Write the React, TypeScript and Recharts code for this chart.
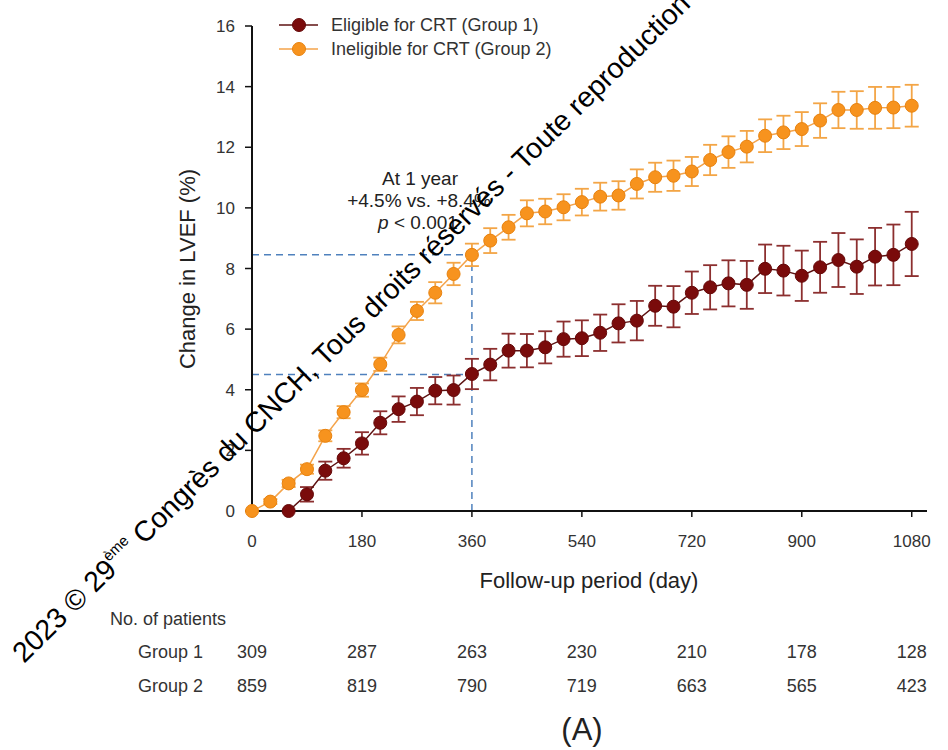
import React from 'react';
import { LineChart, Line, XAxis, YAxis, ErrorBar, ReferenceLine } from 'recharts';

// follow-up days, one point every 30 days
const days = [
  0, 30, 60, 90, 120, 150, 180, 210, 240, 270, 300, 330, 360, 390, 420, 450, 480, 510, 540,
  570, 600, 630, 660, 690, 720, 750, 780, 810, 840, 870, 900, 930, 960, 990, 1020, 1050, 1080,
];

// Group 1: eligible for CRT (no value before day 60)
const group1 = [
  null, null, 0, 0.55, 1.33, 1.74, 2.23, 2.91, 3.36, 3.61, 3.97, 3.99, 4.52, 4.83, 5.29, 5.29, 5.4, 5.67, 5.7,
  5.88, 6.19, 6.28, 6.77, 6.74, 7.2, 7.38, 7.51, 7.46, 7.99, 7.93, 7.76, 8.04, 8.28, 8.06, 8.39, 8.45, 8.81,
];
const group1Err = [
  null, null, 0, 0.24, 0.3, 0.31, 0.37, 0.38, 0.42, 0.45, 0.45, 0.48, 0.5, 0.52, 0.56, 0.55, 0.53, 0.58, 0.59,
  0.6, 0.63, 0.65, 0.66, 0.68, 0.7, 0.73, 0.76, 0.79, 0.8, 0.82, 0.83, 0.84, 0.89, 0.9, 0.95, 1.0, 1.06,
];

// Group 2: ineligible for CRT
const group2 = [
  0, 0.31, 0.91, 1.38, 2.48, 3.26, 3.99, 4.84, 5.81, 6.6, 7.2, 7.82, 8.45, 8.92, 9.36, 9.82, 9.88, 10.02, 10.19,
  10.37, 10.41, 10.79, 11.01, 11.06, 11.2, 11.58, 11.84, 12.02, 12.38, 12.49, 12.6, 12.88, 13.23, 13.23, 13.3, 13.31, 13.37,
];
const group2Err = [
  0, 0.08, 0.12, 0.15, 0.18, 0.2, 0.22, 0.22, 0.28, 0.3, 0.35, 0.37, 0.37, 0.41, 0.41, 0.43, 0.42, 0.43, 0.44,
  0.46, 0.47, 0.48, 0.48, 0.5, 0.48, 0.5, 0.52, 0.52, 0.54, 0.55, 0.56, 0.57, 0.6, 0.62, 0.69, 0.68, 0.69,
];

const xTicks = [0, 180, 360, 540, 720, 900, 1080];
const yTicks = [0, 2, 4, 6, 8, 10, 12, 14, 16];

// number at risk under each x tick
const group1Counts = [309, 287, 263, 230, 210, 178, 128];
const group2Counts = [859, 819, 790, 719, 663, 565, 423];

// 1-year values marked by the dashed guides
const oneYearDay = 360;
const oneYearG1 = 4.5;
const oneYearG2 = 8.45;

const DARK = '#7a0b0b';
const ORANGE = '#f7931e';
const FONT = '"Liberation Sans", Arial, sans-serif';

const data = days.map((d, i) => ({
  day: d,
  g1: group1[i],
  g1Err: group1Err[i],
  g2: group2[i],
  g2Err: group2Err[i],
}));

// x tick label plus the two "No. of patients" rows underneath it
const TableTick = (props: any) => {
  const { x, y, payload, index } = props;
  return (
    <g fontFamily={FONT} textAnchor="middle">
      <text x={x} y={y + 28} fontSize={17} fill="#333">{payload.value}</text>
      <text x={x} y={y + 139} fontSize={18} fill="#333">{group1Counts[index]}</text>
      <text x={x} y={y + 173} fontSize={18} fill="#333">{group2Counts[index]}</text>
    </g>
  );
};

export default function App() {
  return (
    <div style={{ position: 'absolute', left: 0, top: 0, width: 948, height: 750, background: '#fff', fontFamily: FONT }}>
      <LineChart width={948} height={750} data={data} margin={{ top: 26, right: 21, bottom: 209, left: 192 }}>
        <XAxis
          dataKey="day"
          type="number"
          domain={[0, 1105]}
          ticks={xTicks}
          height={30}
          axisLine={{ stroke: '#111', strokeWidth: 2 }}
          tickLine={{ stroke: '#111', strokeWidth: 1.5 }}
          tickSize={6}
          tick={<TableTick />}
          interval={0}
        />
        <YAxis
          type="number"
          domain={[0, 16]}
          ticks={yTicks}
          width={60}
          axisLine={{ stroke: '#111', strokeWidth: 2 }}
          tickLine={{ stroke: '#111', strokeWidth: 1.5 }}
          tickSize={7}
          tickMargin={10}
          tick={{ fill: '#333', fontSize: 17, fontFamily: FONT }}
          interval={0}
        />
        <ReferenceLine
          segment={[{ x: 0, y: oneYearG2 }, { x: oneYearDay, y: oneYearG2 }]}
          stroke="#4f81bd"
          strokeDasharray="7 5"
          strokeWidth={1.5}
        />
        <ReferenceLine
          segment={[{ x: 0, y: oneYearG1 }, { x: oneYearDay, y: oneYearG1 }]}
          stroke="#4f81bd"
          strokeDasharray="7 5"
          strokeWidth={1.5}
        />
        <ReferenceLine
          segment={[{ x: oneYearDay, y: 0 }, { x: oneYearDay, y: oneYearG2 }]}
          stroke="#4f81bd"
          strokeDasharray="7 5"
          strokeWidth={1.5}
        />
        <Line
          dataKey="g1"
          stroke="#5e1212"
          strokeWidth={1.5}
          dot={{ r: 6.5, fill: DARK, stroke: '#650909', strokeWidth: 1 }}
          isAnimationActive={false}
        >
          <ErrorBar dataKey="g1Err" width={7} stroke="#8c2f2f" strokeWidth={1.8} />
        </Line>
        <Line
          dataKey="g2"
          stroke="#f4a34a"
          strokeWidth={1.5}
          dot={{ r: 6.5, fill: ORANGE, stroke: '#e8820e', strokeWidth: 1 }}
          isAnimationActive={false}
        >
          <ErrorBar dataKey="g2Err" width={7} stroke="#f3a546" strokeWidth={1.8} />
        </Line>
      </LineChart>

      <svg width={948} height={750} style={{ position: 'absolute', left: 0, top: 0, pointerEvents: 'none' }} fontFamily={FONT}>
        {/* legend */}
        <line x1={279} y1={25} x2={318} y2={25} stroke="#5e1212" strokeWidth={1.5} />
        <circle cx={299} cy={25} r={6.5} fill={DARK} stroke="#650909" />
        <text x={331} y={31} fontSize={18} fill="#333">Eligible for CRT (Group 1)</text>
        <line x1={279} y1={49} x2={318} y2={49} stroke="#f4a34a" strokeWidth={1.5} />
        <circle cx={299} cy={49} r={6.5} fill={ORANGE} stroke="#e8820e" />
        <text x={331} y={55} fontSize={18} fill="#333">Ineligible for CRT (Group 2)</text>

        {/* annotation */}
        <g fontSize={19} fill="#222" textAnchor="middle">
          <text x={420} y={185}>At 1 year</text>
          <text x={419} y={207}>+4.5% vs. +8.4%</text>
          <text x={418} y={229}><tspan fontStyle="italic">p</tspan> &lt; 0.001</text>
        </g>

        {/* axis titles */}
        <text x={589} y={588} fontSize={22} fill="#222" textAnchor="middle">Follow-up period (day)</text>
        <text transform="translate(195,269) rotate(-90)" fontSize={22} fill="#222" textAnchor="middle">Change in LVEF (%)</text>

        {/* numbers at risk */}
        <g fontSize={18} fill="#333">
          <text x={110} y={625}>No. of patients</text>
          <text x={138} y={658}>Group 1</text>
          <text x={138} y={692}>Group 2</text>
        </g>
        <text x={582} y={740} fontSize={31} fill="#222" textAnchor="middle">(A)</text>

        {/* watermark, cut by the top edge as in the source */}
        <text transform="translate(24,664) rotate(-44.6)" fontSize={28.5} fill="#000">
          2023 © 29<tspan fontSize={15} dy={-13}>ème</tspan>
          <tspan dy={13}> Congrès du CNCH, Tous droits réservés - Toute reproduction</tspan>
        </text>
      </svg>
    </div>
  );
}
